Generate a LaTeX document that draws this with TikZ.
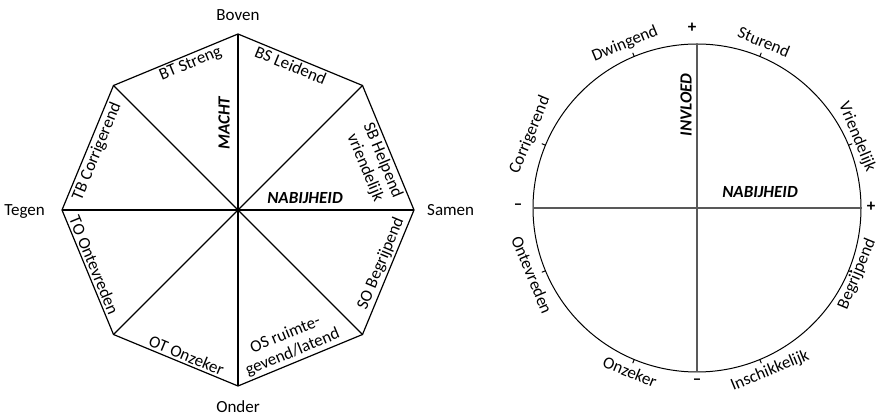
\documentclass[tikz,border=0pt]{standalone}
\usepackage{fontspec}
\setmainfont{Carlito}

\begin{document}
\begin{tikzpicture}[x=1pt,y=1pt,
  every node/.style={font=\fontsize{17}{19}\selectfont,inner sep=1pt},
  octline/.style={line width=1.2pt,black},
  ringline/.style={line width=1pt,black},
  axisline/.style={line width=1.5pt,black!65},
  sidelab/.style={sloped,inner sep=2.5pt,align=center},
  dimlab/.style={font=\fontsize{17}{19}\selectfont\bfseries\itshape},
  signlab/.style={font=\fontsize{17}{19}\selectfont\bfseries}]
\useasboundingbox (0,0) rectangle (878,417);
% octagon
\coordinate (o) at (238,207);
\coordinate (v0) at (414,207);
\coordinate (v45) at (362.5,331.5);
\coordinate (v90) at (238,383);
\coordinate (v135) at (113.5,331.5);
\coordinate (v180) at (62,207);
\coordinate (v225) at (113.5,82.5);
\coordinate (v270) at (238,31);
\coordinate (v315) at (362.5,82.5);
\draw[octline] (v0) -- (v45) -- (v90) -- (v135) -- (v180) -- (v225) -- (v270) -- (v315) -- cycle;
\draw[octline] (v0) -- (v180);
\draw[octline] (v45) -- (v225);
\draw[octline] (v90) -- (v270);
\draw[octline] (v135) -- (v315);
\path (v135) -- (v90) node[sidelab,below,pos=0.59] (lbt) {BT Streng};
\path (v90) -- (v45) node[sidelab,below,pos=0.45] (lbs) {BS Leidend};
\path (v45) -- (v0) node[sidelab,below,pos=0.57] (lsb) {SB Helpend\\vriendelijk};
\path (v180) -- (v135) node[sidelab,below,pos=0.5] (ltb) {TB Corrigerend};
\path (v180) -- (v225) node[sidelab,above,pos=0.47] (lto) {TO Ontevreden};
\path (v225) -- (v270) node[sidelab,above,pos=0.56] (lot) {OT Onzeker};
\path (v270) -- (v315) node[sidelab,above,pos=0.47] (los) {OS ruimte-\\gevend/latend};
\path (v315) -- (v0) node[sidelab,above,pos=0.54] (lso) {SO Begrijpend};
\node[dimlab,rotate=90] (macht) at (224,294) {MACHT};
\node[dimlab] (lnabij) at (305,219) {NABIJHEID};
\node[anchor=base] (boven) at (238,396) {Boven};
\node[anchor=base east] (tegen) at (46,201) {Tegen};
\node[anchor=base west] (samen) at (426,201) {Samen};
\node[anchor=base,inner sep=0pt] (onder) at (238,4) {Onder};
% circle
\coordinate (c) at (697,209);
\coordinate (cw) at (533,209);
\coordinate (ce) at (861,209);
\coordinate (cn) at (697,373);
\coordinate (cs) at (697,45);
\draw[ringline] (c) circle (164);
\draw[axisline] (cw) -- (ce);
\draw[axisline] (cn) -- (cs);
\begin{scope}[shift={(c)}]
\draw[ringline] (22.5:164) -- (22.5:168);
\draw[ringline] (67.5:164) -- (67.5:168);
\draw[ringline] (112.5:164) -- (112.5:168);
\draw[ringline] (157.5:164) -- (157.5:168);
\draw[ringline] (202.5:164) -- (202.5:168);
\draw[ringline] (247.5:164) -- (247.5:168);
\draw[ringline] (292.5:164) -- (292.5:168);
\draw[ringline] (337.5:164) -- (337.5:168);
\end{scope}
\node[dimlab,rotate=90] (invloed) at (686,312) {INVLOED};
\node[dimlab] (rnabij) at (760,225) {NABIJHEID};
\node[rotate=22.5] (dwing) at (625,373) {Dwingend};
\node[rotate=-22.5] (sturend) at (764,375) {Sturend};
\node[rotate=67.5] (corr) at (530,282) {Corrigerend};
\node[rotate=-67.5,inner sep=0pt] (vriend) at (857,280) {Vriendelijk};
\node[rotate=-67.5] (ontev) at (532,142) {Ontevreden};
\node[rotate=67.5,inner sep=0pt] (begrip) at (857,143) {Begrijpend};
\node[rotate=-22.5] (onzeker) at (630,45) {Onzeker};
\node[rotate=22.5] (inschik) at (770,46) {Inschikkelijk};
\node[signlab] (plusn) at (692,389) {+};
\node[signlab] (pluse) at (871,210) {+};
\node[signlab] (minw) at (518,210) {--};
\node[signlab] (mins) at (697,35) {--};
\end{tikzpicture}
\end{document}
